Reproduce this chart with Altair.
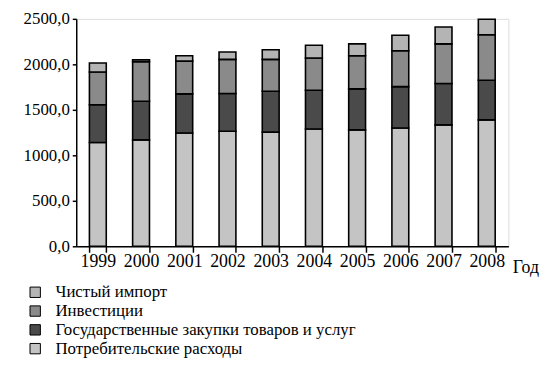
import altair as alt
import pandas as pd

years = ["1999", "2000", "2001", "2002", "2003", "2004", "2005", "2006", "2007", "2008"]
consumption = [1140, 1170, 1245, 1265, 1255, 1290, 1280, 1300, 1335, 1390]
government = [415, 425, 430, 415, 450, 425, 450, 455, 455, 435]
investment = [360, 435, 360, 375, 350, 355, 365, 395, 435, 500]
net_import = [100, 20, 60, 80, 105, 140, 130, 170, 185, 170]

series = [
    "Чистый импорт",
    "Инвестиции",
    "Государственные закупки товаров и услуг",
    "Потребительские расходы",
]
fills = ["#b4b4b4", "#8a8a8a", "#4a4a4a", "#c4c4c4"]

rows = []
for i, y in enumerate(years):
    for name, vals, rank in [
        (series[3], consumption, 0),
        (series[2], government, 1),
        (series[1], investment, 2),
        (series[0], net_import, 3),
    ]:
        rows.append({"year": y, "series": name, "value": vals[i], "rank": rank})
df = pd.DataFrame(rows)

FONT = "'Liberation Serif', 'Times New Roman', 'DejaVu Serif', serif"

chart = (
    alt.Chart(df)
    .mark_bar(stroke="black", strokeWidth=1.6)
    .encode(
        x=alt.X(
            "year:N",
            sort=years,
            scale=alt.Scale(paddingInner=0.61, paddingOuter=0.305),
            axis=alt.Axis(
                title="Год",
                titleX=441,
                titleY=27,
                titleAlign="left",
                titleBaseline="alphabetic",
                titleFont=FONT,
                titleFontSize=18,
                titleFontWeight="normal",
                titleColor="black",
                labelAngle=0,
                labelFont=FONT,
                labelFontSize=18,
                labelColor="black",
                labelPadding=0,
                tickBand="extent",
                tickSize=6,
                tickColor="black",
                domainColor="black",
                domainWidth=1.5,
                tickWidth=1.5,
                grid=False,
            ),
        ),
        y=alt.Y(
            "value:Q",
            stack="zero",
            scale=alt.Scale(domain=[0, 2500], nice=False),
            axis=alt.Axis(
                title=None,
                values=[0, 500, 1000, 1500, 2000, 2500],
                labelExpr="replace(format(datum.value, '.1f'), '.', ',')",
                labelFont=FONT,
                labelFontSize=17,
                labelColor="black",
                labelPadding=3,
                tickSize=4,
                tickColor="black",
                tickWidth=1.5,
                domainColor="black",
                domainWidth=1.5,
                grid=False,
            ),
        ),
        color=alt.Color(
            "series:N",
            scale=alt.Scale(domain=series, range=fills),
            legend=alt.Legend(
                title=None,
                orient="none",
                legendX=-50,
                legendY=268,
                direction="vertical",
                symbolType="square",
                symbolSize=110,
                symbolStrokeColor="black",
                symbolStrokeWidth=1,
                labelFont=FONT,
                labelFontSize=17,
                labelColor="black",
                labelOffset=12,
                rowPadding=1,
                labelLimit=400,
            ),
        ),
        order=alt.Order("rank:Q", sort="ascending"),
    )
    .properties(
        width=437,
        height=230,
        padding={"left": 69, "top": 9, "right": 33, "bottom": 112},
        autosize=alt.AutoSizeParams(type="none"),
    )
    .configure_view(stroke=None)
    .configure(background="white", font=FONT)
)

chart.save("out.html", embed_options={"renderer": "svg", "actions": False})
